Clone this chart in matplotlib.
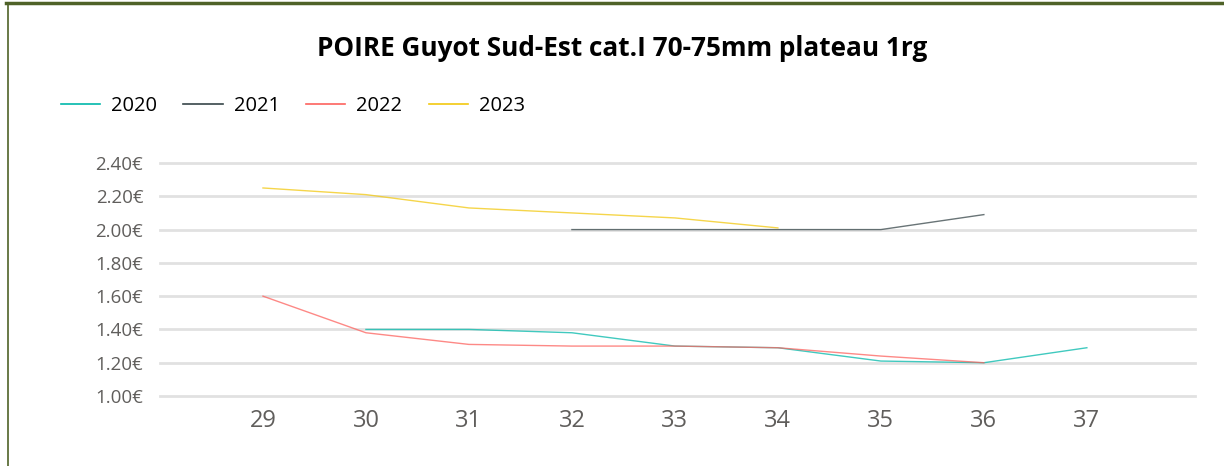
import matplotlib.pyplot as plt
from matplotlib.lines import Line2D

plt.rcParams['font.family'] = ['Open Sans', 'DejaVu Sans']

# semaines
weeks = [29, 30, 31, 32, 33, 34, 35, 36, 37]

# prix par année (None = pas de cotation)
p2020 = [None, 1.40, 1.40, 1.38, 1.30, 1.29, 1.21, 1.20, 1.29]
p2021 = [None, None, None, 2.00, 2.00, 2.00, 2.00, 2.09, None]
p2022 = [1.60, 1.38, 1.31, 1.30, 1.30, 1.29, 1.24, 1.20, None]
p2023 = [2.25, 2.21, 2.13, 2.10, 2.07, 2.01, None, None, None]

series = [("2020", p2020, "#01B8AA"),
          ("2021", p2021, "#374649"),
          ("2022", p2022, "#FD625E"),
          ("2023", p2023, "#F2C80F")]

yticks = [1.00, 1.20, 1.40, 1.60, 1.80, 2.00, 2.20, 2.40]

fig = plt.figure(figsize=(12.24, 4.66), dpi=100)
ax = fig.add_axes([0.1307, 0.1502, 0.8456, 0.5])

for name, vals, col in series:
    xs = [w for w, v in zip(weeks, vals) if v is not None]
    ys = [v for v in vals if v is not None]
    ax.plot(xs, ys, color=col, lw=1.0, alpha=0.75, label=name)

ax.set_xlim(28.0, 38.05)
ax.set_ylim(1.0, 2.4)
ax.set_yticks(yticks)
ax.set_yticklabels([f"{v:.2f}€" for v in yticks], color="#605E5C", fontsize=13.5)
ax.set_xticks(weeks)
ax.set_xticklabels([str(w) for w in weeks], color="#605E5C", fontsize=17)
ax.tick_params(axis='both', length=0)
ax.tick_params(axis='y', pad=12)
ax.tick_params(axis='x', pad=9)
ax.grid(axis='y', color="#E1E1E1", lw=2)
for gl in ax.get_ygridlines():
    gl.set_clip_on(False)
ax.set_axisbelow(True)
for s in ax.spines.values():
    s.set_visible(False)

fig.text(0.508, 0.895, "POIRE Guyot Sud-Est cat.I 70-75mm plateau 1rg",
         ha='center', va='center', fontsize=18.8, fontweight='bold')

handles = [Line2D([], [], color=c, lw=1.2) for _, _, c in series]
fig.legend(handles, [n for n, _, _ in series], loc='center left',
           bbox_to_anchor=(0.035, 0.772), ncol=4, frameon=False,
           fontsize=14.5, handlelength=1.95, columnspacing=1.3, handletextpad=0.55)

# cadre
fig.add_artist(Line2D([0.005, 1.0], [0.993, 0.993], color="#4F6228", lw=2.5,
                      transform=fig.transFigure))
fig.add_artist(Line2D([0.0065, 0.0065], [0.0, 0.993], color="#4F6228", lw=1.2,
                      transform=fig.transFigure))

fig.savefig("out.png", dpi=100)
